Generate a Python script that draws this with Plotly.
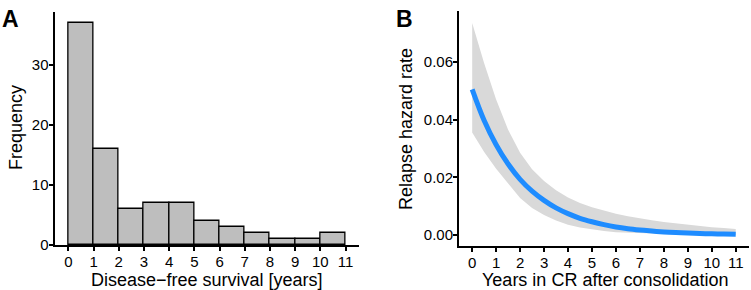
import plotly.graph_objects as go

# ---- Panel A data: histogram of disease-free survival ----
bin_edges = [0, 1, 2, 3, 4, 5, 6, 7, 8, 9, 10, 11]
frequency = [37, 16, 6, 7, 7, 4, 3, 2, 1, 1, 2]

# ---- Panel B data: relapse hazard rate with confidence band ----
years = [0, 0.5, 1, 1.5, 2, 2.5, 3, 3.5, 4, 4.5, 5, 5.5, 6, 6.5, 7, 7.5, 8,
         8.5, 9, 9.5, 10, 10.5, 11]
hazard = [0.0505, 0.0397, 0.0313, 0.0246, 0.0193, 0.0152, 0.0120, 0.0094,
          0.0074, 0.0058, 0.0046, 0.0036, 0.0028, 0.0022, 0.00175, 0.00138,
          0.00108, 0.00085, 0.00067, 0.00053, 0.00041, 0.00033, 0.00026]
upper = [0.0735, 0.0595, 0.0470, 0.0365, 0.0285, 0.0228, 0.0187, 0.0155,
         0.0130, 0.0111, 0.0096, 0.0084, 0.0074, 0.0065, 0.0057, 0.0051,
         0.0045, 0.0040, 0.0035, 0.0031, 0.0027, 0.0024, 0.0021]
lower = [0.0355, 0.0288, 0.0230, 0.0177, 0.0128, 0.0094, 0.0069, 0.0050,
         0.0036, 0.0026, 0.0019, 0.0014, 0.0010, 0.0008, 0.0006, 0.00045,
         0.00033, 0.00025, 0.00018, 0.00013, 0.0001, 0.00007, 0.00005]

xticks_a = list(range(0, 12))
yticks_a = [0, 10, 20, 30]
xticks_b = list(range(0, 12))
yticks_b = [0.00, 0.02, 0.04, 0.06]
ytick_text_b = ["0.00", "0.02", "0.04", "0.06"]

W, H = 751, 290
FONT = "Liberation Sans, Arial, Helvetica, sans-serif"

bin_centers = [(bin_edges[i] + bin_edges[i + 1]) / 2 for i in range(len(frequency))]
bin_widths = [bin_edges[i + 1] - bin_edges[i] for i in range(len(frequency))]

fig = go.Figure()
fig.add_trace(go.Bar(
    x=bin_centers, y=frequency, width=bin_widths,
    marker=dict(color="#BEBEBE", line=dict(color="black", width=1.3)),
    xaxis="x", yaxis="y", showlegend=False, hoverinfo="x+y"))

fig.add_trace(go.Scatter(
    x=years, y=lower, mode="lines", line=dict(width=0, color="rgba(0,0,0,0)"),
    xaxis="x2", yaxis="y2", showlegend=False, hoverinfo="skip"))
fig.add_trace(go.Scatter(
    x=years, y=upper, mode="lines", line=dict(width=0, color="rgba(0,0,0,0)"),
    fill="tonexty", fillcolor="#D9D9D9",
    xaxis="x2", yaxis="y2", showlegend=False, hoverinfo="skip"))
fig.add_trace(go.Scatter(
    x=years, y=hazard, mode="lines", line=dict(width=5, color="#1E8CFF", shape="spline"),
    xaxis="x2", yaxis="y2", showlegend=False))

def px_x(p):
    return p / W

def px_y(p):
    return 1 - p / H

axis_common = dict(
    showline=True, linecolor="black", linewidth=2,
    ticks="outside", ticklen=4, tickwidth=1.5, tickcolor="black",
    showgrid=False, zeroline=False, automargin=False,
    tickfont=dict(family=FONT, size=15, color="black"),
)

fig.update_layout(
    width=W, height=H,
    margin=dict(l=0, r=0, t=0, b=0),
    paper_bgcolor="white", plot_bgcolor="white",
    bargap=0,
    xaxis=dict(domain=[px_x(54.5), px_x(359.4)], range=[-0.55, 11.55],
               tickvals=xticks_a, anchor="y", ticklabelstandoff=-2, **axis_common),
    yaxis=dict(domain=[px_y(245), px_y(11.9)], range=[0, 38.85],
               tickvals=yticks_a, anchor="x", ticklabelstandoff=-3, **axis_common),
    xaxis2=dict(domain=[px_x(459), px_x(748.9)], range=[-0.55, 11.55],
                tickvals=xticks_b, anchor="y2", ticklabelstandoff=-2, **axis_common),
    yaxis2=dict(domain=[px_y(245.7), px_y(10.8)], range=[-0.0037, 0.0777],
                tickvals=yticks_b, ticktext=ytick_text_b, anchor="x2",
                ticklabelstandoff=-3, **axis_common),
    annotations=[
        dict(text="<b>A</b>", x=px_x(0), y=px_y(4), xref="paper", yref="paper",
             xanchor="left", yanchor="top", showarrow=False,
             font=dict(family=FONT, size=23, color="black")),
        dict(text="<b>B</b>", x=px_x(393.5), y=px_y(4), xref="paper", yref="paper",
             xanchor="left", yanchor="top", showarrow=False,
             font=dict(family=FONT, size=23, color="black")),
        dict(text="Disease\u2212free survival [years]", x=px_x(207), y=px_y(280),
             xref="paper", yref="paper", xanchor="center", yanchor="middle",
             showarrow=False, font=dict(family=FONT, size=18, color="black")),
        dict(text="Frequency", x=px_x(16), y=px_y(128), textangle=-90,
             xref="paper", yref="paper", xanchor="center", yanchor="middle",
             showarrow=False, font=dict(family=FONT, size=18, color="black")),
        dict(text="Years in CR after consolidation", x=px_x(605), y=px_y(280),
             xref="paper", yref="paper", xanchor="center", yanchor="middle",
             showarrow=False, font=dict(family=FONT, size=18, color="black")),
        dict(text="Relapse hazard rate", x=px_x(406), y=px_y(129), textangle=-90,
             xref="paper", yref="paper", xanchor="center", yanchor="middle",
             showarrow=False, font=dict(family=FONT, size=18, color="black")),
    ],
)

fig.write_html("out.html", config={"displayModeBar": False},
               post_script="document.body.style.margin='0';document.body.style.overflow='hidden';")
